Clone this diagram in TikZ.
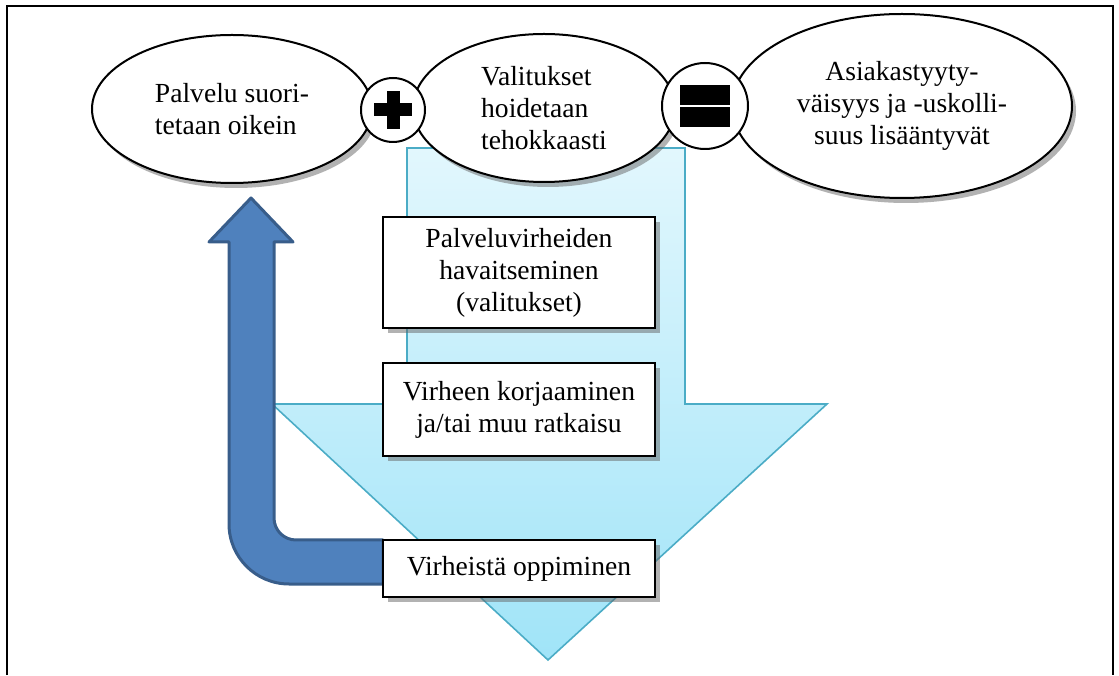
\documentclass[tikz,border=0pt]{standalone}
\usepackage{fontspec}
\setmainfont{Liberation Serif}
\newfontfamily\serifface{Liberation Serif}
\usetikzlibrary{positioning, shapes.geometric, shadows}
\definecolor{flowTop}{RGB}{226,247,253}
\definecolor{flowBot}{RGB}{160,228,248}
\definecolor{flowLine}{RGB}{75,172,198}
\definecolor{loopFill}{RGB}{79,129,189}
\definecolor{loopLine}{RGB}{56,93,138}
\newcommand{\txt}{\serifface\fontsize{13.8}{16}\selectfont}
\tikzset{
  % soikiot ylarivissa
  bubble/.style={ellipse, draw, line width=1pt, fill=white, inner sep=0pt,
                 font=\txt, drop shadow={shadow xshift=2pt, shadow yshift=-2.5pt, fill=black!60}},
  % plus- ja yhtasuuruusmerkki
  sign/.style={circle, draw, line width=1pt, fill=white, inner sep=0pt},
  % prosessin vaiheet
  stepbox/.style={rectangle, draw, line width=1pt, fill=white, align=center,
                  minimum width=136pt, inner sep=0pt, font=\txt,
                  drop shadow={shadow xshift=2.5pt, shadow yshift=-2.5pt, fill=black!60}},
  flow/.style={draw=flowLine, line width=0.8pt, top color=flowTop, bottom color=flowBot},
  loop/.style={draw=loopLine, line width=1.5pt, fill=loopFill, line join=round}
}

\begin{document}
\begin{tikzpicture}[x=0.5pt, y=0.5pt]
    \useasboundingbox (0,0) rectangle (1119,675);
    % kehys
    \draw[line width=1pt] (7,0) -- (7,669) -- (1113,669) -- (1113,0);

    % alaspain osoittava nuoli
    \draw[flow] (407,527) -- (685,527) -- (685,271) -- (827,271) -- (548,15)
                -- (272,271) -- (407,271) -- cycle;

    % paluunuoli
    \draw[loop] (251,477) -- (209,433) -- (229,433) -- (229,151) arc (180:270:60)
                -- (383,91) -- (383,135) -- (296,135) arc (270:180:22)
                -- (274,433) -- (293,433) -- cycle;

    \node[bubble, minimum width=140pt, minimum height=74pt, align=left] (right) at (232,566)
        {Palvelu suori-\\tetaan oikein};
    \node[bubble, minimum width=131pt, minimum height=74pt, align=left] (handled) at (544,567)
        {Valitukset\\hoidetaan\\tehokkaasti};
    \node[bubble, minimum width=170pt, minimum height=92pt, align=center] (loyal) at (902,569)
        {Asiakastyyty-\\väisyys ja -uskolli-\\suus lisääntyvät};

    \node[sign, minimum size=32pt] (plus) at (393,565) {};
    \fill ([shift={(-19,-6.5)}]plus.center) rectangle ([shift={(19,6.5)}]plus.center);
    \fill ([shift={(-6.5,-19)}]plus.center) rectangle ([shift={(6.5,19)}]plus.center);

    \node[sign, minimum size=43pt] (equals) at (705,569) {};
    \fill ([shift={(-25,1)}]equals.center) rectangle ([shift={(25,21)}]equals.center);
    \fill ([shift={(-25,-1)}]equals.center) rectangle ([shift={(25,-21)}]equals.center);

    \node[stepbox, minimum height=55.5pt] (detect) at (519,402.5)
        {Palveluvirheiden\\havaitseminen\\(valitukset)};
    \node[stepbox, minimum height=46.5pt] (fix) at (519,265.5)
        {Virheen korjaaminen\\ja/tai muu ratkaisu};
    \node[stepbox, minimum height=28.5pt] (learn) at (519,106.5)
        {Virheistä oppiminen};
  \end{tikzpicture}
\end{document}
